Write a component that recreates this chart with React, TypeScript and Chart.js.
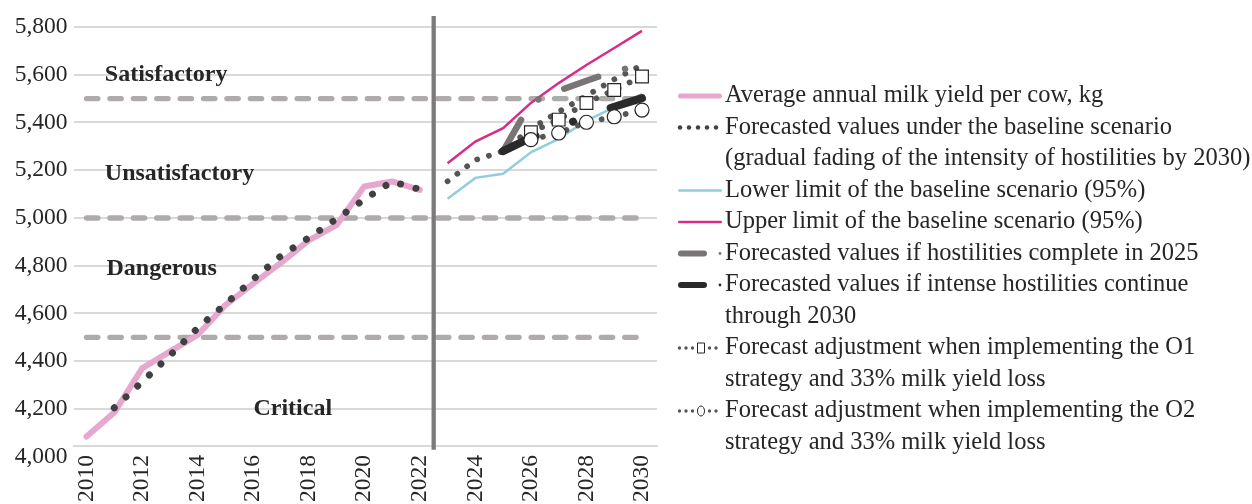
import React, { useEffect, useRef } from 'react';
import { Chart, registerables } from 'chart.js';

Chart.register(...registerables);

// ---------- data ----------
const histYears = [2010, 2011, 2012, 2013, 2014, 2015, 2016, 2017, 2018, 2019, 2020, 2021, 2022];
const actualYield = [4085, 4185, 4370, 4440, 4510, 4635, 4725, 4812, 4906, 4970, 5132, 5153, 5118];

const fitYears = [2011, 2012, 2013, 2014, 2015, 2016, 2017, 2018, 2019, 2020, 2021, 2022];
const baselineFit = [4205, 4313, 4424, 4539, 4639, 4743, 4841, 4917, 4996, 5078, 5152, 5120];

const forecastYears = [2023, 2024, 2025, 2026, 2027, 2028, 2029, 2030];
const baselineForecast = [5154, 5243, 5280, 5374, 5445, 5512, 5581, 5640];
const lowerLimit = [5081, 5168, 5185, 5275, 5331, 5408, 5463, 5519];
const upperLimit = [5229, 5320, 5376, 5482, 5565, 5641, 5712, 5784];

const scenarioYears = [2025, 2026, 2027, 2028, 2029, 2030];
const hostilitiesEnd2025 = [5280, 5483, 5533, 5575, 5614, 5641];
const intenseHostilities = [5280, 5337, 5380, 5425, 5466, 5502];

const strategyYears = [2026, 2027, 2028, 2029, 2030];
const strategyO1 = [5359, 5412, 5482, 5536, 5593];
const strategyO2 = [5328, 5356, 5401, 5424, 5452];

const thresholdYears = [2010, 2030];
const thresholdValues = [4500, 5000, 5500];

const dividerYears = [2022.5, 2022.5];
const dividerValues = [4029, 5846];

const yTicks = [4000, 4200, 4400, 4600, 4800, 5000, 5200, 5400, 5600, 5800];
const xTicks = [2010, 2012, 2014, 2016, 2018, 2020, 2022, 2024, 2026, 2028, 2030];

const zoneLabels = ['Satisfactory', 'Unsatisfactory', 'Dangerous', 'Critical'];
const zoneLabelYears = [2010.66, 2010.66, 2010.72, 2016.01];
const zoneLabelValues = [5599, 5187, 4789, 4199];

const legendTexts: string[][] = [
  ['Average annual milk yield per cow, kg'],
  ['Forecasted values under the baseline scenario', '(gradual fading of the intensity of hostilities by 2030)'],
  ['Lower limit of the baseline scenario (95%)'],
  ['Upper limit of the baseline scenario (95%)'],
  ['Forecasted values if hostilities complete in 2025'],
  ['Forecasted values if intense hostilities continue', 'through 2030'],
  ['Forecast adjustment when implementing the O1', 'strategy and 33% milk yield loss'],
  ['Forecast adjustment when implementing the O2', 'strategy and 33% milk yield loss'],
];

// ---------- styles ----------
const FONT = '"Liberation Serif", "Times New Roman", serif';
const TEXT = '#262626';
const PINK = '#e6a8cf';
const DOT_DARK = '#404040';
const DOT_MID = '#555555';
const BLUE = '#93cddd';
const MAGENTA = '#d62e87';
const GREY_THICK = '#7a7575';
const BLACK_THICK = '#2a2a2a';
const THRESH = '#afabab';
const DIVIDER = '#7b7b7b';
const GRID = '#d9d9d9';

const LEG_FS = 24.5;
const LEG_LH = 31.5;
const LEG_FIRST_Y = 96;
const LEG_TEXT_X = 725;
const LEG_MARK_X = 678;

const pts = (xs: number[], ys: number[]) => xs.map((x, i) => ({ x, y: ys[i] }));

type Ctx = CanvasRenderingContext2D;

function solid(color: string, w: number) {
  return (ctx: Ctx, m: number, cy: number) => {
    ctx.strokeStyle = color;
    ctx.lineWidth = w;
    ctx.lineCap = 'round';
    ctx.beginPath();
    ctx.moveTo(m + w / 2, cy);
    ctx.lineTo(m + 44 - w / 2, cy);
    ctx.stroke();
  };
}

function dotsMarker(color: string) {
  return (ctx: Ctx, m: number, cy: number) => {
    ctx.fillStyle = color;
    [2, 11, 20, 29, 38].forEach((o) => {
      ctx.beginPath();
      ctx.arc(m + o, cy, 2.2, 0, Math.PI * 2);
      ctx.fill();
    });
  };
}

function dashDot(color: string, w: number) {
  return (ctx: Ctx, m: number, cy: number) => {
    ctx.strokeStyle = color;
    ctx.lineWidth = w;
    ctx.lineCap = 'round';
    ctx.beginPath();
    ctx.moveTo(m + w / 2, cy);
    ctx.lineTo(m + 29 - w / 2, cy);
    ctx.stroke();
    ctx.fillStyle = color;
    ctx.beginPath();
    ctx.arc(m + 42, cy, 1.4, 0, Math.PI * 2);
    ctx.fill();
  };
}

function shapeDots(shape: 'rect' | 'circle') {
  return (ctx: Ctx, m: number, cy: number) => {
    ctx.fillStyle = DOT_MID;
    [1.5, 8, 14.5, 31.5, 38].forEach((o) => {
      ctx.beginPath();
      ctx.arc(m + o, cy, 1.7, 0, Math.PI * 2);
      ctx.fill();
    });
    ctx.strokeStyle = TEXT;
    ctx.fillStyle = '#ffffff';
    ctx.lineWidth = 1;
    ctx.beginPath();
    if (shape === 'rect') {
      ctx.rect(m + 19.5, cy - 5, 7, 10);
    } else {
      ctx.ellipse(m + 23, cy, 3.5, 5, 0, 0, Math.PI * 2);
    }
    ctx.fill();
    ctx.stroke();
  };
}

const legendMarkers = [
  solid(PINK, 5),
  dotsMarker(DOT_DARK),
  solid(BLUE, 2.5),
  solid(MAGENTA, 2.5),
  dashDot(GREY_THICK, 6),
  dashDot(BLACK_THICK, 6),
  shapeDots('rect'),
  shapeDots('circle'),
];

const zoneLabelPlugin = {
  id: 'zoneLabels',
  afterDatasetsDraw(chart: any) {
    const { ctx, scales } = chart;
    const x = scales.x;
    const y = scales.y;
    ctx.save();
    ctx.font = `bold 24px ${FONT}`;
    ctx.fillStyle = TEXT;
    ctx.textAlign = 'left';
    ctx.textBaseline = 'middle';
    zoneLabels.forEach((t, i) => {
      ctx.fillText(t, x.getPixelForValue(zoneLabelYears[i]), y.getPixelForValue(zoneLabelValues[i]));
    });
    ctx.restore();
  },
};

const legendPlugin = {
  id: 'sideLegend',
  afterDraw(chart: any) {
    const ctx: Ctx = chart.ctx;
    ctx.save();
    let line = 0;
    legendTexts.forEach((lines, i) => {
      const cy = LEG_FIRST_Y + line * LEG_LH;
      ctx.save();
      legendMarkers[i](ctx, LEG_MARK_X, cy);
      ctx.restore();
      ctx.font = `${LEG_FS}px ${FONT}`;
      ctx.fillStyle = TEXT;
      ctx.textAlign = 'left';
      ctx.textBaseline = 'middle';
      lines.forEach((t, j) => ctx.fillText(t, LEG_TEXT_X, cy + j * LEG_LH));
      line += lines.length;
    });
    ctx.restore();
  },
};

export default function App() {
  const ref = useRef<HTMLCanvasElement>(null);

  useEffect(() => {
    if (!ref.current) return;
    Chart.defaults.font.family = FONT;
    Chart.defaults.color = TEXT;

    const dotted = (width: number, gap: number, color: string) => ({
      borderColor: color,
      borderWidth: width,
      borderDash: [0.001, gap],
      borderCapStyle: 'round' as const,
      borderJoinStyle: 'round' as const,
    });

    const datasets: any[] = [
      {
        label: 'Average annual milk yield per cow, kg',
        data: pts(histYears, actualYield),
        borderColor: PINK,
        borderWidth: 6,
        borderCapStyle: 'round',
        borderJoinStyle: 'round',
        pointRadius: 0,
        order: 8,
      },
      {
        label: 'Baseline (fitted)',
        data: pts(fitYears, baselineFit),
        ...dotted(7, 16, DOT_DARK),
        pointRadius: 0,
        order: 5,
      },
      {
        label: 'Forecasted values under the baseline scenario',
        data: pts(forecastYears, baselineForecast),
        ...dotted(5.8, 12.3, DOT_MID),
        pointRadius: 0,
        order: 5,
      },
      {
        label: 'Lower limit',
        data: pts(forecastYears, lowerLimit),
        borderColor: BLUE,
        borderWidth: 2.5,
        pointRadius: 0,
        order: 7,
      },
      {
        label: 'Upper limit',
        data: pts(forecastYears, upperLimit),
        borderColor: MAGENTA,
        borderWidth: 2.5,
        pointRadius: 0,
        order: 6,
      },
      {
        label: 'Hostilities complete in 2025',
        data: pts(scenarioYears, hostilitiesEnd2025),
        borderColor: GREY_THICK,
        borderWidth: 6.5,
        borderCapStyle: 'round',
        borderJoinStyle: 'round',
        borderDash: [36, 28, 0.001, 28],
        pointRadius: 0,
        order: 4,
      },
      {
        label: 'Intense hostilities continue',
        data: pts(scenarioYears, intenseHostilities),
        borderColor: BLACK_THICK,
        borderWidth: 8,
        borderCapStyle: 'round',
        borderJoinStyle: 'round',
        borderDash: [36, 40, 0.001, 40],
        pointRadius: 0,
        order: 3,
      },
      {
        label: 'O1',
        data: pts(strategyYears, strategyO1),
        ...dotted(5.8, 12.3, DOT_MID),
        pointStyle: 'rect',
        pointRadius: 9,
        pointBackgroundColor: '#ffffff',
        pointBorderColor: TEXT,
        pointBorderWidth: 1.2,
        order: 2,
      },
      {
        label: 'O2',
        data: pts(strategyYears, strategyO2),
        ...dotted(5.8, 12.3, DOT_MID),
        pointStyle: 'circle',
        pointRadius: 7,
        pointBackgroundColor: '#ffffff',
        pointBorderColor: TEXT,
        pointBorderWidth: 1.2,
        order: 1,
      },
      ...thresholdValues.map((v) => ({
        label: 'threshold ' + v,
        data: pts(thresholdYears, thresholdYears.map(() => v)),
        borderColor: THRESH,
        borderWidth: 5.3,
        borderCapStyle: 'round',
        borderDash: [11.4, 12],
        pointRadius: 0,
        order: 10,
      })),
      {
        label: 'divider',
        data: pts(dividerYears, dividerValues),
        borderColor: DIVIDER,
        borderWidth: 4.3,
        pointRadius: 0,
        clip: false,
        order: 9,
      },
    ];

    const chart = new Chart(ref.current, {
      type: 'line',
      data: { datasets },
      plugins: [zoneLabelPlugin, legendPlugin],
      options: {
        responsive: false,
        animation: false,
        devicePixelRatio: 1,
        layout: { padding: { left: 8, top: 27, right: 595, bottom: -7 } },
        events: [],
        scales: {
          x: {
            type: 'linear',
            min: 2009.56,
            max: 2030.54,
            bounds: 'data',
            afterBuildTicks: (s: any) => {
              s.ticks = xTicks.map((v) => ({ value: v }));
            },
            ticks: {
              autoSkip: false,
              minRotation: 90,
              maxRotation: 90,
              padding: 9,
              color: TEXT,
              font: { size: 23.5 },
              callback: (v: any) => String(v),
            },
            grid: { display: false, drawTicks: false },
            border: { display: true, color: GRID, width: 2 },
          },
          y: {
            type: 'linear',
            min: 4045,
            max: 5800,
            bounds: 'data',
            afterBuildTicks: (s: any) => {
              s.ticks = yTicks.map((v) => ({ value: v }));
            },
            ticks: {
              autoSkip: false,
              padding: 6.7,
              color: TEXT,
              font: { size: 23.5 },
              callback: (v: any) => Number(v).toLocaleString('en-US'),
            },
            grid: {
              color: (c: any) => (c.tick && c.tick.value < 4045 ? 'rgba(0,0,0,0)' : GRID),
              lineWidth: 2,
              drawTicks: false,
            },
            border: { display: false },
          },
        },
        plugins: {
          tooltip: { enabled: false },
          legend: { display: false },
        },
      } as any,
    });
    return () => chart.destroy();
  }, []);

  return (
    <canvas
      ref={ref}
      width={1252}
      height={504}
      style={{ position: 'fixed', left: 0, top: 0, width: 1252, height: 504 }}
    />
  );
}
